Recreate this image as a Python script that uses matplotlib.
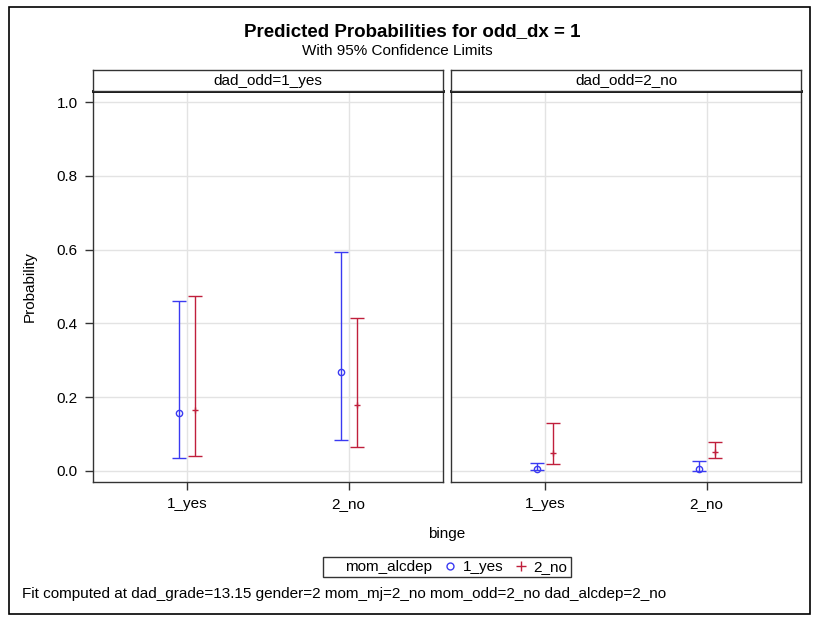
import matplotlib
matplotlib.use("Agg")
import matplotlib.pyplot as plt
from matplotlib.lines import Line2D
from matplotlib.patches import Rectangle
import numpy as np

plt.rcParams['font.family'] = ['Liberation Sans', 'DejaVu Sans']

# data
panels = ["dad_odd=1_yes", "dad_odd=2_no"]
binge = ["1_yes", "2_no"]
groups = ["1_yes", "2_no"]

# estimate / lower / upper per panel, per group, per binge level
est_yes = [[0.158, 0.268], [0.005, 0.005]]
lo_yes = [[0.036, 0.085], [0.002, 0.001]]
hi_yes = [[0.462, 0.593], [0.022, 0.027]]

est_no = [[0.165, 0.179], [0.049, 0.052]]
lo_no = [[0.040, 0.064], [0.018, 0.035]]
hi_no = [[0.475, 0.414], [0.131, 0.079]]

blue = '#3a3af2'
red = '#c01f3c'

W, H = 817, 624
fig = plt.figure(figsize=(W / 100, H / 100), dpi=100)

def fx(px):
    return px / W

def fy(py):
    return 1 - py / H

# outer frame
fig.patches.append(Rectangle((fx(9), fy(614)), fx(801), 607 / H, transform=fig.transFigure,
                             fill=False, edgecolor='black', linewidth=1.2))

fig.text(fx(412), fy(32), "Predicted Probabilities for odd_dx = 1", ha='center', va='center',
         fontsize=13.5, fontweight='bold')
fig.text(fx(397), fy(51), "With 95% Confidence Limits", ha='center', va='center', fontsize=11)

lefts = [93, 451]
pw = 350
x = np.arange(len(binge))
off = 0.05
axes = []
for i, (name, left) in enumerate(zip(panels, lefts)):
    ax = fig.add_axes([fx(left), fy(482), pw / W, 391 / H])
    axes.append(ax)
    for series, est, lo, hi, col, mk, dx in [
            (groups[0], est_yes, lo_yes, hi_yes, blue, 'o', -off),
            (groups[1], est_no, lo_no, hi_no, red, '+', off)]:
        e = np.array(est[i])
        err = [e - np.array(lo[i]), np.array(hi[i]) - e]
        ax.errorbar(x + dx, e, yerr=err, fmt=mk, color=col, ecolor=col,
                    markerfacecolor='none', markersize=4.5 if mk == 'o' else 5,
                    markeredgewidth=1.0, elinewidth=1.0, capsize=4.8, capthick=1.0, zorder=3)
    ax.set_xlim(-0.585, 1.585)
    ax.set_ylim(-0.03, 1.03)
    ax.set_xticks(x)
    ax.set_xticklabels(binge, fontsize=11)
    ax.set_yticks(np.arange(0, 1.01, 0.2))
    ax.set_yticklabels([f"{v:.1f}" for v in np.arange(0, 1.01, 0.2)], fontsize=11)
    ax.grid(True, color='#e3e3e3', linewidth=1.0, zorder=0)
    ax.set_axisbelow(True)
    ax.tick_params(direction='out', length=6, width=1, color='#333333', pad=5)
    for s in ax.spines.values():
        s.set_color('#333333')
        s.set_linewidth(1.0)
    ax.spines['top'].set_color('black')
    ax.spines['top'].set_linewidth(2.0)
    if i > 0:
        ax.tick_params(axis='y', left=False, labelleft=False)

    # strip header
    sax = fig.add_axes([fx(left), fy(91), pw / W, 21 / H])
    sax.set_xticks([])
    sax.set_yticks([])
    for s in sax.spines.values():
        s.set_color('#333333')
        s.set_linewidth(1.0)
    sax.text(0.5, 0.5, name, ha='center', va='center', fontsize=11, transform=sax.transAxes)

axes[0].set_ylabel("Probability", fontsize=11, labelpad=14)
fig.text(fx(447), fy(534), "binge", ha='center', va='center', fontsize=11)

handles = [Line2D([], [], linestyle='none', marker=None),
           Line2D([], [], linestyle='none', marker='o', markerfacecolor='none',
                  markeredgecolor=blue, markersize=5),
           Line2D([], [], linestyle='none', marker='+', color=red, markersize=7)]
leg = fig.legend(handles, ["mom_alcdep", groups[0], groups[1]], loc='center',
                 bbox_to_anchor=(fx(447), fy(567)), ncol=3, frameon=True, fancybox=False,
                 fontsize=11, handlelength=0.8, handletextpad=0.4, columnspacing=0.8,
                 borderpad=0.2, borderaxespad=0)
leg.get_frame().set_edgecolor('black')
leg.get_frame().set_linewidth(1.0)

fig.text(fx(22), fy(594), "Fit computed at dad_grade=13.15 gender=2 mom_mj=2_no mom_odd=2_no dad_alcdep=2_no",
         ha='left', va='center', fontsize=11)

fig.savefig("out.png", dpi=100)
